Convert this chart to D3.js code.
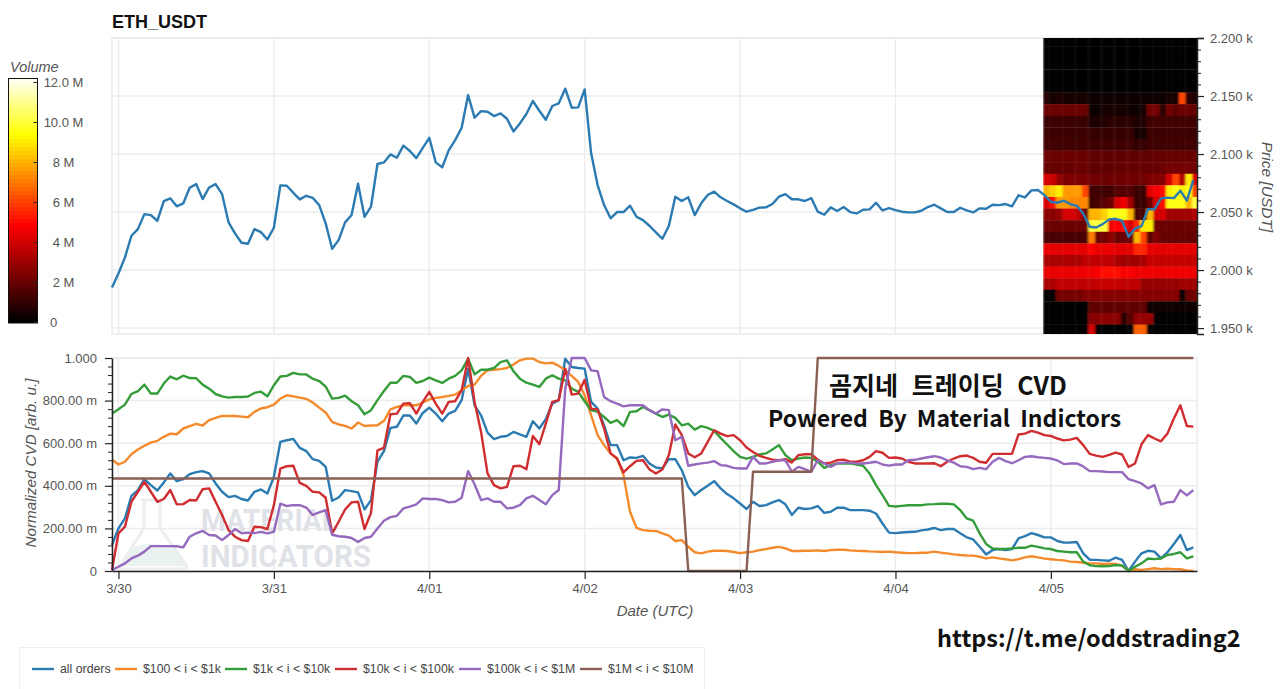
<!DOCTYPE html>
<html>
<head>
<meta charset="utf-8">
<script src="https://cdn.jsdelivr.net/npm/d3@7"></script>
<style>
  html, body { margin: 0; padding: 0; background: #fff; overflow: hidden; }
  text { font-family: "Liberation Sans", Arial, sans-serif; }
</style>
</head>
<body>
<div id="chart"></div>
<script>
// hourly samples, first one is one hour before 3/30 00:00
const price = [
  1985,1997.1,2010.9,2029.6,2035.3,2048.2,2047.4,2042.5,2059.5,2061.8,2054.9,2057.4,2070.9,2074.1,2061.2,2071.2,2074.1,2065.5,2041.1,2031.6,
  2023.5,2022.7,2035.3,2032.7,2026.4,2036.5,2073,2072.7,2066.6,2060.9,2064,2062.3,2056,2040.2,2018.4,2025.8,2041.1,2047.4,2074.4,2045.9,
  2054.6,2091.4,2092.8,2099.7,2096.8,2107.2,2102.6,2096.5,2105.4,2114,2092.8,2088.5,2103.1,2112,2122.7,2150.8,2131.3,2137,2136.5,2132.7,
  2135,2130.4,2119.5,2126.4,2134.5,2145.7,2137.3,2129.6,2141.4,2143.7,2156.3,2139.9,2140.2,2155.7,
  2100.6,2073.3,2056,2044.6,2050,2050,2055.5,2046,2043,2038.2,2032.5,2027,2038,2063.2,2059.5,2062.7,2047.4,2057.5,2064.7,2067.6,
  2062.7,2059.5,2056.6,2053.2,2050.3,2051.8,2053.8,2054,2056.9,2063.2,2065.5,2061,2061,2059.5,2062,2050.3,
  2047.7,2054,2050.9,2054.3,2050,2048.8,2052,2052.3,2058,2051.4,2053.4,2051.7,2050.3,2049.7,2049.7,2051.1,2054.3,2056.3,2053.2,2050,
  2050,2053.7,2051.4,2049.7,2053.2,2052.9,2056.3,2056,2056.9,2054.9,2064.4,2062.6,2068.7,2069,2064.6,
  2058.9,2058,2059.8,2056.9,2055.4,2048.8,2037.3,2036.7,2039.6,2043.7,2044.2,2042.5,2028.7,2035.9,2037.9,2052.6,2052.3,2061.8,2062.4,2062,2068.4,2059.8,2077.6
];

const allOrders = [
  .122,.2,.247,.353,.38,.431,.403,.378,.416,.458,.422,.431,.455,.464,.469,.458,.411,.372,.347,.353,.338,.331,.372,.383,.364,
  .442,.606,.614,.62,.578,.563,.525,.517,.489,.33,.345,.38,.375,.369,.289,.333,.513,.563,.672,.677,.73,.73,.692,.742,.767,
  .739,.703,.739,.752,.802,.95,.778,.731,.65,.619,.63,.634,.653,.641,.63,.703,.669,.713,.786,.802,.997,.958,.953,.95,.794,.763,.684,.591,.591,.52,
  .533,.531,.541,.505,.486,.481,.525,.525,.473,.395,.356,.38,.4,.422,.388,.361,.341,.317,.291,.325,.305,.309,.322,.333,.313,.263,.297,.291,.294,.305,
  .273,.278,.297,.297,.286,.286,.286,.283,.27,.223,.18,.178,.181,.183,.184,.191,.195,.202,.192,.197,.197,.177,.158,.148,.114,.078,.098,.103,.098,
  .103,.153,.164,.178,.169,.158,.158,.141,.133,.134,.136,.083,.053,.052,.05,.048,.063,.052,0,.044,.083,.095,.091,.059,.088,.127,.169,.098,.111
];
const small = [
  .523,.5,.513,.548,.57,.588,.603,.611,.63,.645,.642,.669,.68,.691,.683,.708,.719,.728,.728,.728,.725,.722,.747,.763,.769,
  .781,.809,.825,.82,.814,.808,.791,.767,.744,.7,.688,.681,.669,.697,.681,.683,.684,.705,.759,.77,.778,.778,.778,.791,.806,
  .813,.817,.822,.828,.848,.869,.875,.916,.942,.945,.948,.953,.969,.989,.997,.997,.981,.975,.978,.963,.942,.916,.888,.825,.731,.638,.591,.552,.528,.45,
  .278,.203,.192,.189,.188,.177,.166,.141,.145,.114,.088,.083,.091,.095,.095,.094,.089,.084,.088,.091,.098,.103,.109,.113,.106,.094,.094,.095,.095,.097,
  .094,.098,.1,.1,.097,.095,.094,.092,.091,.089,.091,.088,.086,.084,.084,.086,.086,.091,.086,.083,.078,.075,.073,.072,.067,.059,.064,.059,.055,
  .05,.056,.064,.069,.064,.058,.055,.052,.05,.044,.042,.039,.036,.036,.033,.034,.033,.025,.003,.008,.005,.009,.013,.009,.011,.009,.008,.003,0
];
const medium = [
  .739,.759,.781,.831,.844,.875,.833,.833,.88,.913,.9,.917,.906,.905,.875,.856,.831,.82,.814,.817,.817,.819,.836,.842,.82,
  .872,.913,.916,.93,.923,.923,.903,.892,.866,.809,.813,.823,.797,.778,.736,.755,.802,.845,.884,.884,.916,.911,.883,.892,.908,
  .895,.883,.903,.916,.942,.997,.923,.945,.945,.953,.981,.989,.938,.903,.884,.875,.864,.903,.919,.903,.895,.856,.841,.797,.755,.747,.723,.695,.708,.68,
  .747,.75,.77,.755,.739,.723,.734,.719,.684,.692,.664,.68,.672,.658,.625,.594,.563,.536,.528,.536,.547,.552,.57,.591,.544,.52,.528,.533,.531,.513,
  .484,.497,.505,.505,.505,.5,.494,.458,.403,.356,.306,.303,.306,.309,.309,.309,.313,.314,.316,.316,.313,.286,.247,.236,.177,.127,.106,.103,.103,
  .106,.109,.109,.119,.113,.106,.103,.094,.091,.088,.088,.044,.027,.023,.022,.023,.028,.025,0,.02,.036,.059,.056,.059,.075,.08,.088,.059,.069
];
const large = [
  .005,.177,.208,.325,.372,.419,.372,.325,.338,.38,.313,.314,.333,.331,.384,.388,.325,.263,.192,.161,.145,.141,.208,.206,.197,
  .309,.481,.492,.494,.414,.4,.372,.369,.344,.177,.231,.289,.322,.325,.197,.273,.566,.578,.736,.739,.786,.788,.739,.794,.841,
  .786,.739,.794,.797,.848,1,.794,.653,.458,.403,.388,.395,.492,.494,.478,.634,.595,.692,.794,.802,.95,.828,.833,.898,.762,.759,.669,.552,.528,.463,
  .492,.517,.52,.477,.458,.477,.544,.688,.638,.552,.534,.552,.606,.661,.645,.633,.638,.614,.58,.559,.541,.531,.523,.52,.525,.509,.544,.548,.548,.523,
  .505,.509,.52,.523,.513,.513,.52,.536,.563,.555,.531,.533,.528,.513,.505,.505,.505,.506,.492,.513,.528,.539,.542,.531,.513,.508,.55,.55,.55,
  .55,.641,.645,.658,.65,.638,.634,.622,.613,.617,.625,.591,.55,.542,.536,.545,.556,.547,.488,.505,.595,.638,.622,.609,.645,.716,.778,.681,.678
];
const whale = [
  .005,.02,.036,.059,.072,.091,.117,.117,.117,.117,.116,.111,.161,.177,.188,.169,.167,.145,.169,.197,.177,.18,.178,.184,.177,
  .184,.316,.305,.309,.309,.298,.263,.275,.286,.17,.163,.161,.155,.136,.155,.161,.2,.236,.253,.259,.294,.302,.313,.341,.338,
  .338,.333,.322,.325,.344,.469,.406,.333,.341,.325,.325,.294,.297,.309,.341,.353,.333,.313,.356,.38,.856,1,1,1,.942,.938,.817,.797,.786,.773,
  .778,.778,.778,.755,.739,.759,.755,.614,.63,.494,.5,.505,.509,.516,.497,.494,.484,.481,.481,.536,.505,.505,.513,.52,.52,.466,.489,.478,.466,.52,
  .505,.489,.505,.509,.509,.505,.505,.508,.513,.5,.495,.5,.5,.52,.522,.528,.534,.539,.533,.519,.509,.492,.489,.478,.484,.478,.513,.531,.516,
  .506,.52,.536,.539,.534,.531,.528,.519,.502,.505,.505,.491,.469,.469,.467,.464,.464,.464,.431,.422,.411,.388,.403,.313,.322,.325,.38,.355,.38
];
// this one only moves in a few steps
const megaHours = [-1, 87, 88, 97, 98, 107, 108, 166];
const megaValues = [.434, .434, 0, 0, .466, .466, 1, 1];

const seriesNames = ["all orders", "$100 < i < $1k", "$1k < i < $10k", "$10k < i < $100k", "$100k < i < $1M", "$1M < i < $10M"];
const seriesColors = ["#2b7bb2", "#f58a2c", "#359c3a", "#cf2d2f", "#9569bd", "#8a5f55"];

const dayTicks = [0, 24, 48, 72, 96, 120, 144];
const dayLabels = ["3/30", "3/31", "4/01", "4/02", "4/03", "4/04", "4/05"];
const priceTicks = [2200, 2150, 2100, 2050, 2000, 1950];
const priceMinor = [2190, 2180, 2170, 2160, 2140, 2130, 2120, 2110, 2090, 2080, 2070, 2060, 2040, 2030, 2020, 2010, 1990, 1980, 1970, 1960];
const cvdTicks = [0, .2, .4, .6, .8, 1];
const cvdMinor = [.04, .08, .12, .16, .24, .28, .32, .36, .44, .48, .52, .56, .64, .68, .72, .76, .84, .88, .92, .96];
const volumeTicks = [0, 2, 4, 6, 8, 10, 12];

// order book heatmap: volume in millions, rows top to bottom, one column per hour
const heatStartHour = 142.8;
const heatLevels = [2193, 2183, 2173, 2163, 2153, 2143, 2133, 2123, 2113, 2103, 2093, 2083, 2073, 2063, 2053, 2043, 2033, 2023, 2013, 2003, 1993, 1983, 1973, 1963, 1953, 1943];
const heatVolume = [
  [.05,.05,.05,.05,.05,.05,.05,.05,.05,.05,.05,.05,.05,.05,.05,.05,.05,.05,.05,.05,.05,.05,.05,.05],
  [.05,.05,.05,.05,.05,.05,.05,.05,.05,.05,.05,.05,.05,.05,.05,.05,.05,.05,.05,.05,.05,.05,.05,.05],
  [.05,.05,.05,.05,.05,.05,.05,.05,.05,.05,.05,.05,.05,.05,.05,.05,.05,.05,.05,.05,.05,.05,.05,.05],
  [.08,.08,.08,.08,.08,.08,.08,.08,.08,.08,.08,.08,.08,.08,.08,.08,.08,.08,.08,.08,.08,.08,.08,.08],
  [.12,.12,.12,.12,.12,.12,.12,.1,.1,.1,.1,.1,.1,.1,.1,.1,.1,.1,.1,.1,.1,.1,.1,.1],
  [.7,.4,.5,.4,.4,.4,.4,.2,.2,.2,.2,.2,.2,.2,.2,.2,.3,.3,.3,.4,.4,6,.8,.5],
  [2,2,2,2,2,2,2,.3,.3,.4,.4,.4,.4,.3,.3,.4,2.2,2.2,.8,2.2,1.8,2,2,1.8],
  [1.1,1.1,1.1,1.1,1.1,1.1,1.1,.5,.5,.6,.8,.8,.8,.8,.5,.6,1.2,1.2,1.2,1.2,1.2,1.2,1.2,1.2],
  [1.1,1.1,1.1,1.1,1.1,1.1,1.1,1,1,1,1,1,1,1,.4,.4,1.1,1.1,1.1,1.1,1.1,1.1,1.1,1.1],
  [1.2,1.2,1.2,1.2,1.2,1.2,1.2,1.2,1.2,1.2,1.2,1.2,1.2,1.2,.9,1,1.2,1.2,1.2,1.2,1.2,1.2,1.2,1.2],
  [2,2,2,2,2,2,2,1.8,1.8,1.8,1.8,1.8,1.8,1.8,1.8,1.8,1.8,1.9,1.9,1.9,1.9,1.9,1.9,2],
  [1.9,1.9,1.9,1.9,1.9,2,2,1.8,1.8,1.8,1.8,1.9,1.9,1.9,1.9,1.9,1.9,1.9,2,2.2,2.2,2.2,2.2,2],
  [4,3.8,2.8,2.3,2.4,2.3,2.3,2.1,2.1,2,2.1,2.1,2.1,2.1,2.1,2.1,2.4,2.4,2.5,4,6,3.4,9,4.2],
  [8,8.5,9,7.5,7.5,7.5,6,1.2,1.2,1.2,1.2,1.6,1.6,1.6,1.1,1.1,4.2,4.6,5,9,9.5,9,9.5,6],
  [4,5,7.5,7.5,7.2,7.2,7.2,1.2,1.4,1.7,2,4,4.5,3,1,1,2,4,5,9.5,9.5,9.5,8,10],
  [2.6,2.6,2.8,4,4,3.6,2,8,8,8.5,9.5,9.5,9.5,8,1.4,1.4,8,4,4,3,3,3,3,3.4],
  [2,2,2,2,2,2,2,10,10,10,4.5,4.8,5,4,5.5,9,9,2,2,2,2,2,2,2],
  [1.4,1.4,1.4,1.4,1.4,1.4,1.4,7,2,2.2,2.6,2,2,2,8,6,1.8,2.4,1.9,1.9,1.9,1.9,1.9,1.9],
  [4.3,4.3,4.3,4.3,4.3,4.3,4.3,4.8,4.4,4.4,4.4,4.3,4.3,4.3,5.5,5.5,4.3,4.3,4.3,4.3,4.3,4.3,4.3,4.3],
  [3.2,3.2,3.2,3.2,3.2,3.2,3.6,3.6,3.6,3.6,3.6,3.2,3,3,3,3.2,3.7,3.7,3.7,3.7,3.7,3.7,3.7,3.7],
  [4.4,4.4,4.4,4.4,4.4,4.4,4.5,4.5,4.7,5,5,5,4.7,4.7,4.5,4.5,4.5,4.5,4.5,4.5,4.5,4.5,4.5,4.5],
  [3.2,3.2,3.6,3.6,3.6,3.6,3.6,3.6,3.7,3.7,3.7,3.7,3.6,3.6,3.6,2.8,2.8,2.8,2.8,2.8,2.8,3,3,3],
  [.1,.1,2.2,2.2,2.2,2.2,2.5,2.5,2.5,2.5,2.5,2.5,2.5,2.5,2.5,2.5,2.5,2.5,2.5,2.5,2.5,.15,2,2.2],
  [.1,.1,.1,.1,.1,.1,.1,1.8,1.8,1.8,1.8,1.8,1.8,1.8,1.8,1.8,.3,.3,.3,.3,.3,.3,.3,.3],
  [.1,.1,.1,.1,.1,.1,.1,2.6,2.6,2.6,2.6,2.6,.8,1.7,2.8,2.8,2.8,.05,.05,.05,.05,.05,.05,.05],
  [.05,.05,.05,.05,.05,.05,.05,4,.1,.1,.1,.1,.1,.1,6.5,6.5,.1,.1,.1,.1,.1,.1,.1,.1]
];

const width = 1280;
const height = 689;
const left = 112, right = 1197;

const svg = d3.select("#chart").append("svg")
  .attr("width", width)
  .attr("height", height)
  .style("display", "block");

const hourIndex = price.map((d, i) => i - 1);

const x = d3.scaleLinear().domain([-1, 166.57]).range([left, right]);
const yPrice = d3.scaleLinear().domain([2200, 1944.9]).range([38, 334]);
const yCvd = d3.scaleLinear().domain([0, 1]).range([571, 358]);
const volumeColor = d3.scaleLinear()
  .domain([0, 4.8, 9.3, 12.2])
  .range(["#000000", "#ff0000", "#ffff00", "#ffffff"]);
const yVolume = d3.scaleLinear().domain([0, 12]).range([322, 82]);

const gridColor = "#ececec";

function grid(top, bottom, yScale, yValues) {
  const g = svg.append("g").attr("stroke", gridColor).attr("stroke-width", 1.5).attr("fill", "none");
  g.selectAll(".v").data(dayTicks).join("line").attr("class", "v")
    .attr("x1", d => x(d)).attr("x2", d => x(d)).attr("y1", top).attr("y2", bottom);
  g.selectAll(".h").data(yValues).join("line").attr("class", "h")
    .attr("x1", left).attr("x2", right).attr("y1", d => yScale(d)).attr("y2", d => yScale(d));
  g.append("rect").attr("x", left).attr("y", top).attr("width", right - left).attr("height", bottom - top);
}

grid(38, 334, yPrice, priceTicks);
grid(358, 571, yCvd, cvdTicks);

// heatmap, blurred a little along time like the reference
const defs = svg.append("defs");
defs.append("filter").attr("id", "soft").attr("x", "-2%").attr("y", "-2%").attr("width", "104%").attr("height", "104%")
  .append("feGaussianBlur").attr("stdDeviation", "1.2 0.5");
defs.append("clipPath").attr("id", "heatClip").append("rect")
  .attr("x", x(heatStartHour)).attr("y", 38).attr("width", right - x(heatStartHour)).attr("height", 296);
const heat = svg.append("g").attr("clip-path", "url(#heatClip)").append("g").attr("filter", "url(#soft)");
heatVolume.forEach((row, r) => {
  heat.selectAll(".r" + r).data(row).join("rect").attr("class", "r" + r)
    .attr("x", (d, c) => x(heatStartHour + c))
    .attr("width", (d, c) => x(heatStartHour + c + 1) - x(heatStartHour + c) + 0.3)
    .attr("y", yPrice(Math.min(heatLevels[r] + 10, 2200)))
    .attr("height", yPrice(Math.max(heatLevels[r], 1944.9)) - yPrice(Math.min(heatLevels[r] + 10, 2200)) + 0.3)
    .attr("fill", d => volumeColor(d));
});

// price line
const priceLine = d3.line().x((d, i) => x(hourIndex[i])).y(d => yPrice(d));
svg.append("path").datum(price)
  .attr("d", priceLine)
  .attr("fill", "none")
  .attr("stroke", seriesColors[0])
  .attr("stroke-width", 2.4)
  .attr("stroke-linejoin", "round");

// watermark sits under the cvd lines
const mark = svg.append("g");
mark.append("path")
  .attr("d", "M141 500 L160 500 M144 500 L144 528 L120 566 Q118 569 122 569 L184 569 Q188 569 186 565 L160 528 L160 500")
  .attr("fill", "none").attr("stroke", "#eeeeee").attr("stroke-width", 3);
mark.append("path")
  .attr("d", "M132 548 Q150 540 174 548 L185 566 L121 566 Z")
  .attr("fill", "#e9f1f1");
mark.append("text").attr("x", 201).attr("y", 531)
  .attr("font-size", 31).attr("font-weight", 700).attr("fill", "#dfe2e6")
  .attr("textLength", 136).attr("lengthAdjust", "spacingAndGlyphs")
  .style("font-family", "Roboto").text("MATERIAL");
mark.append("text").attr("x", 201).attr("y", 567)
  .attr("font-size", 31).attr("font-weight", 700).attr("fill", "#dfe2e6")
  .attr("textLength", 170).attr("lengthAdjust", "spacingAndGlyphs")
  .style("font-family", "Roboto").text("INDICATORS");

// cvd lines
const cvdLine = d3.line().x((d, i) => x(hourIndex[i])).y(d => yCvd(d));
[allOrders, small, medium, large, whale].forEach((values, i) => {
  svg.append("path").datum(values)
    .attr("d", cvdLine)
    .attr("fill", "none")
    .attr("stroke", seriesColors[i])
    .attr("stroke-width", 2.4)
    .attr("stroke-linejoin", "round");
});
svg.append("path").datum(megaValues)
  .attr("d", d3.line().x((d, i) => x(megaHours[i])).y(d => yCvd(d)))
  .attr("fill", "none")
  .attr("stroke", seriesColors[5])
  .attr("stroke-width", 2.4)
  .attr("stroke-linejoin", "round");

// axes
function styleAxis(g) {
  g.selectAll(".domain").attr("stroke", "#222").attr("stroke-width", 1.5);
  g.selectAll(".tick line").attr("stroke", "#222").attr("stroke-width", 1.2);
  g.selectAll(".tick text").attr("fill", "#555").attr("font-size", 13)
    .style("font-family", '"Liberation Sans", Arial, sans-serif');
}

const priceFormat = d => d3.format(".3f")(d / 1000) + " k";
svg.append("g").attr("transform", `translate(${right},0)`)
  .call(d3.axisRight(yPrice).tickValues(priceMinor).tickSize(4).tickFormat(""))
  .call(g => g.selectAll(".domain").remove())
  .call(g => g.selectAll(".tick line").attr("stroke", "#222"));
svg.append("g").attr("transform", `translate(${right},0)`)
  .call(d3.axisRight(yPrice).tickValues(priceTicks).tickSize(7).tickPadding(6).tickFormat(priceFormat))
  .call(styleAxis);

const cvdFormat = d => d === 0 ? "0" : d === 1 ? "1.000" : d3.format(".2f")(d * 1000) + " m";
svg.append("g").attr("transform", `translate(${left},0)`)
  .call(d3.axisLeft(yCvd).tickValues(cvdMinor).tickSize(4).tickFormat(""))
  .call(g => g.selectAll(".domain").remove())
  .call(g => g.selectAll(".tick line").attr("stroke", "#222"));
svg.append("g").attr("transform", `translate(${left},0)`)
  .call(d3.axisLeft(yCvd).tickValues(cvdTicks).tickSize(7).tickSizeOuter(0).tickPadding(8).tickFormat(cvdFormat))
  .call(styleAxis);

svg.append("g").attr("transform", "translate(0,571)")
  .call(d3.axisBottom(x).tickValues(dayTicks).tickSize(8).tickSizeOuter(0).tickPadding(5).tickFormat((d, i) => dayLabels[i]))
  .call(styleAxis);

// axis titles
function axisTitle(txt, tx, ty, rotate, size) {
  svg.append("text")
    .attr("transform", `translate(${tx},${ty}) rotate(${rotate})`)
    .attr("text-anchor", "middle")
    .attr("font-size", size)
    .attr("font-style", "italic")
    .attr("fill", "#555")
    .text(txt);
}
axisTitle("Price [USDT]", 1262, 187, 90, 15.5);
axisTitle("Normalized CVD [arb. u.]", 36, 463, -90, 15.2);
axisTitle("Date (UTC)", 655, 616, 0, 15);

svg.append("text").attr("x", 112).attr("y", 28)
  .attr("font-size", 18).attr("font-weight", 700).attr("fill", "#111").text("ETH_USDT");

// colour bar
const bar = svg.append("g");
const barSteps = d3.range(0, 12.2, 0.2);
bar.append("g").attr("shape-rendering", "crispEdges").selectAll("rect").data(barSteps).join("rect")
  .attr("x", 9).attr("width", 28)
  .attr("y", d => yVolume(d + 0.2))
  .attr("height", d => yVolume(d) - yVolume(d + 0.2) + 0.5)
  .attr("fill", d => volumeColor(d));
bar.append("rect").attr("x", 8.5).attr("y", 78.5).attr("width", 29).attr("height", 244.5)
  .attr("fill", "none").attr("stroke", "#111").attr("stroke-width", 1);
const volumeFormat = d => d >= 10 ? d3.format(".1f")(d) + " M" : d === 0 ? "0" : d + " M";
bar.append("g").attr("transform", "translate(37.5,0)")
  .call(d3.axisRight(yVolume).tickValues(volumeTicks).tickSize(-4).tickPadding(8).tickFormat(volumeFormat))
  .call(g => g.selectAll(".domain").remove())
  .call(g => g.selectAll(".tick line").attr("stroke", "#222"))
  .call(g => g.selectAll(".tick text")
    .attr("fill", "#555").attr("font-size", 13)
    .attr("text-anchor", "middle").attr("x", d => d === 0 ? 16 : 26)
    .style("font-family", '"Liberation Sans", Arial, sans-serif'));
svg.append("text").attr("x", 10).attr("y", 72)
  .attr("font-size", 14.5).attr("font-style", "italic").attr("fill", "#555").text("Volume");

// legend
svg.append("rect").attr("x", 19.5).attr("y", 647.5).attr("width", 685).attr("height", 50)
  .attr("fill", "#fff").attr("stroke", "#efefef");
const legendLineX = [32, 115, 225, 335, 459, 580];
const legend = svg.append("g").selectAll("g").data(seriesNames).join("g")
  .attr("transform", (d, i) => `translate(${legendLineX[i]},669)`);
legend.append("line").attr("x1", 0).attr("x2", 22)
  .attr("stroke", (d, i) => seriesColors[i]).attr("stroke-width", 2.4);
legend.append("text").attr("x", 28).attr("y", 4)
  .attr("font-size", 12.3).attr("fill", "#444").text(d => d);

// text pasted over the chart
function overlay(txt, tx, ty, size, wordGap) {
  svg.append("text").attr("x", tx).attr("y", ty)
    .attr("font-size", size).attr("font-weight", 700).attr("fill", "#111")
    .attr("word-spacing", wordGap)
    .style("font-family", '"Noto Sans CJK KR", "Noto Sans", sans-serif')
    .text(txt);
}
overlay("곰지네 트레이딩 CVD", 829, 395, 25, 8);
overlay("Powered By Material Indictors", 768, 427, 23, 5);
overlay("https://t.me/oddstrading2", 937, 647, 23.5, 0);
</script>
</body>
</html>
